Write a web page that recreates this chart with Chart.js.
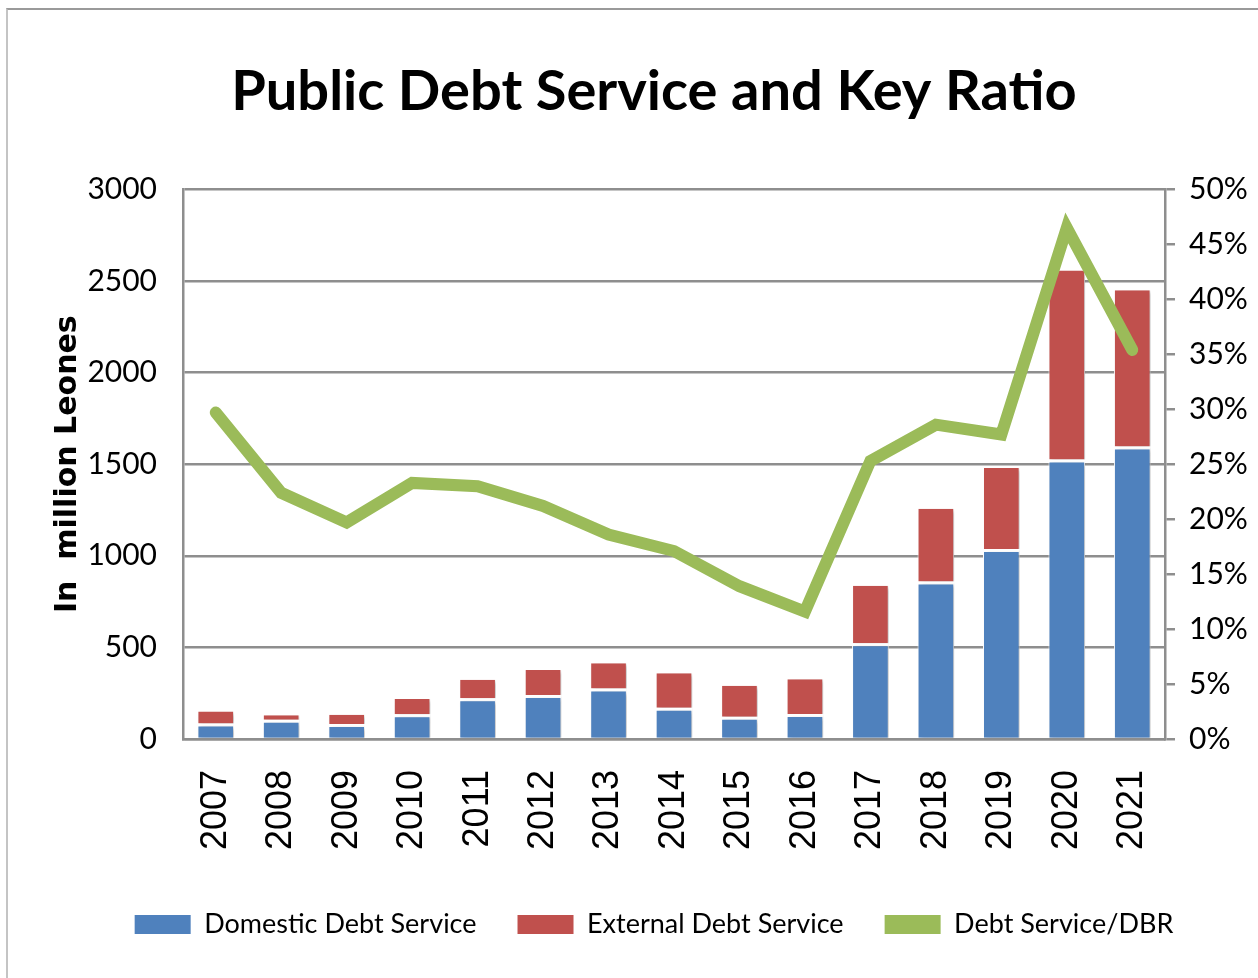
<!DOCTYPE html>
<html>
<head>
<meta charset="utf-8">
<title>Public Debt Service and Key Ratio</title>
<script src="https://cdn.jsdelivr.net/npm/chart.js@4.4.1/dist/chart.umd.min.js"></script>
<style>
    html, body { margin: 0; padding: 0; background: #fff; }
    #frame {
        position: absolute; left: 6px; top: 8px; width: 1252px; height: 970px;
        border-top: 2px solid #9a9a9a; border-left: 2px solid #c4c4c4;
    }
    #debtChart { position: absolute; left: 0; top: 0; }
</style>
</head>
<body>
<div id="frame"></div>
<canvas id="debtChart" width="1258" height="978"></canvas>
<script>
// years on the category axis
var years = ["2007", "2008", "2009", "2010", "2011", "2012", "2013", "2014",
             "2015", "2016", "2017", "2018", "2019", "2020", "2021"];

// debt service, in million Leones
var domesticDebt = [85, 105, 82, 135, 222, 240, 275, 171, 122, 137, 523, 860, 1037, 1525, 1597];
var externalDebt = [65, 25, 50, 83, 102, 137, 139, 188, 168, 189, 313, 397, 442, 1032, 853];

// debt service / DBR, percent
var debtRatio = [29.7, 22.4, 19.7, 23.3, 23.0, 21.2, 18.6, 17.1, 13.9, 11.6, 25.3, 28.6, 27.7, 46.5, 35.4];

var textFont = 'Lato, "Open Sans", sans-serif';
var gridGray = "#8e8e8e";

// soft drop shadow behind the bars only
var barShadow = {
    id: "barShadow",
    beforeDatasetDraw: function(chart, args) {
        if (args.meta.type !== "bar") return;
        var ctx = chart.ctx;
        ctx.save();
        ctx.shadowColor = "rgba(0,0,0,0.22)";
        ctx.shadowBlur = 4;
        ctx.shadowOffsetX = 3;
        ctx.shadowOffsetY = 2;
    },
    afterDatasetDraw: function(chart, args) {
        if (args.meta.type !== "bar") return;
        chart.ctx.restore();
    }
};

function legendLabels(chart) {
    var items = Chart.defaults.plugins.legend.labels.generateLabels(chart);
    items.forEach(function(item) {
        var ds = chart.data.datasets[item.datasetIndex];
        item.fillStyle = ds.type === "line" ? ds.borderColor : ds.backgroundColor;
        item.strokeStyle = item.fillStyle;
        item.lineWidth = 0;
    });
    return items;
}

var ctx = document.getElementById("debtChart");
var debtChart = new Chart(ctx, {
    type: "bar",
    data: {
        labels: years,
        datasets: [
            {
                label: "Domestic Debt Service",
                data: domesticDebt,
                backgroundColor: "#4f81bd",
                borderColor: "#ffffff",
                borderWidth: { top: 3, left: 1, right: 1, bottom: 0 },
                borderSkipped: false,
                yAxisID: "y",
                order: 1
            },
            {
                label: "External Debt Service",
                data: externalDebt,
                backgroundColor: "#c0504d",
                borderColor: "#ffffff",
                borderWidth: { top: 0, left: 1, right: 1, bottom: 0 },
                borderSkipped: false,
                yAxisID: "y",
                order: 1
            },
            {
                type: "line",
                label: "Debt Service/DBR",
                data: debtRatio,
                borderColor: "#9bbb59",
                backgroundColor: "#9bbb59",
                borderWidth: 12,
                borderCapStyle: "round",
                borderJoinStyle: "miter",
                pointRadius: 0,
                tension: 0,
                yAxisID: "y1",
                order: 0
            }
        ]
    },
    options: {
        responsive: false,
        animation: false,
        layout: { padding: { left: 50, right: 0, top: 8, bottom: 30 } },
        datasets: {
            bar: { categoryPercentage: 1.0, barPercentage: 0.56 }
        },
        plugins: {
            title: {
                display: true,
                text: "Public Debt Service and Key Ratio",
                color: "#000",
                font: { family: textFont, size: 56, weight: "bold", lineHeight: 1.15 },
                padding: { top: 52, bottom: 65 }
            },
            legend: {
                position: "bottom",
                labels: {
                    color: "#000",
                    font: { family: textFont, size: 27 },
                    boxWidth: 56,
                    boxHeight: 19,
                    padding: 41,
                    generateLabels: legendLabels,
                    sort: function(a, b) { return a.datasetIndex - b.datasetIndex; }
                }
            },
            tooltip: { enabled: false }
        },
        scales: {
            x: {
                stacked: true,
                grid: { display: false },
                border: { display: true, color: gridGray, width: 2.5 },
                ticks: {
                    color: "#000",
                    font: { family: '"Liberation Sans", Arial, sans-serif', size: 36 },
                    minRotation: 90,
                    maxRotation: 90,
                    padding: 23
                },
                afterFit: function(scale) { scale.height = 131; }
            },
            y: {
                stacked: true,
                position: "left",
                min: 0,
                max: 3000,
                ticks: {
                    stepSize: 500,
                    color: "#000",
                    font: { family: textFont, size: 30 },
                    padding: 26,
                    callback: function(v) { return String(v); }
                },
                grid: { color: gridGray, lineWidth: 2.5, drawTicks: false },
                border: { display: true, color: gridGray, width: 2.5 },
                title: {
                    display: true,
                    text: "In  million Leones",
                    color: "#000",
                    font: { family: '"DejaVu Sans", Verdana, sans-serif', size: 30, weight: "bold" },
                    padding: 0
                },
                afterFit: function(scale) { scale.width = 133; }
            },
            y1: {
                position: "right",
                min: 0,
                max: 50,
                ticks: {
                    stepSize: 5,
                    color: "#000",
                    font: { family: textFont, size: 30 },
                    padding: 14,
                    callback: function(v) { return v + "%"; }
                },
                grid: { drawOnChartArea: false, color: gridGray, lineWidth: 2.5, tickLength: 10 },
                border: { display: true, color: gridGray, width: 2.5 },
                afterFit: function(scale) { scale.width = 93; }
            }
        }
    },
    plugins: [barShadow]
});
</script>
</body>
</html>
